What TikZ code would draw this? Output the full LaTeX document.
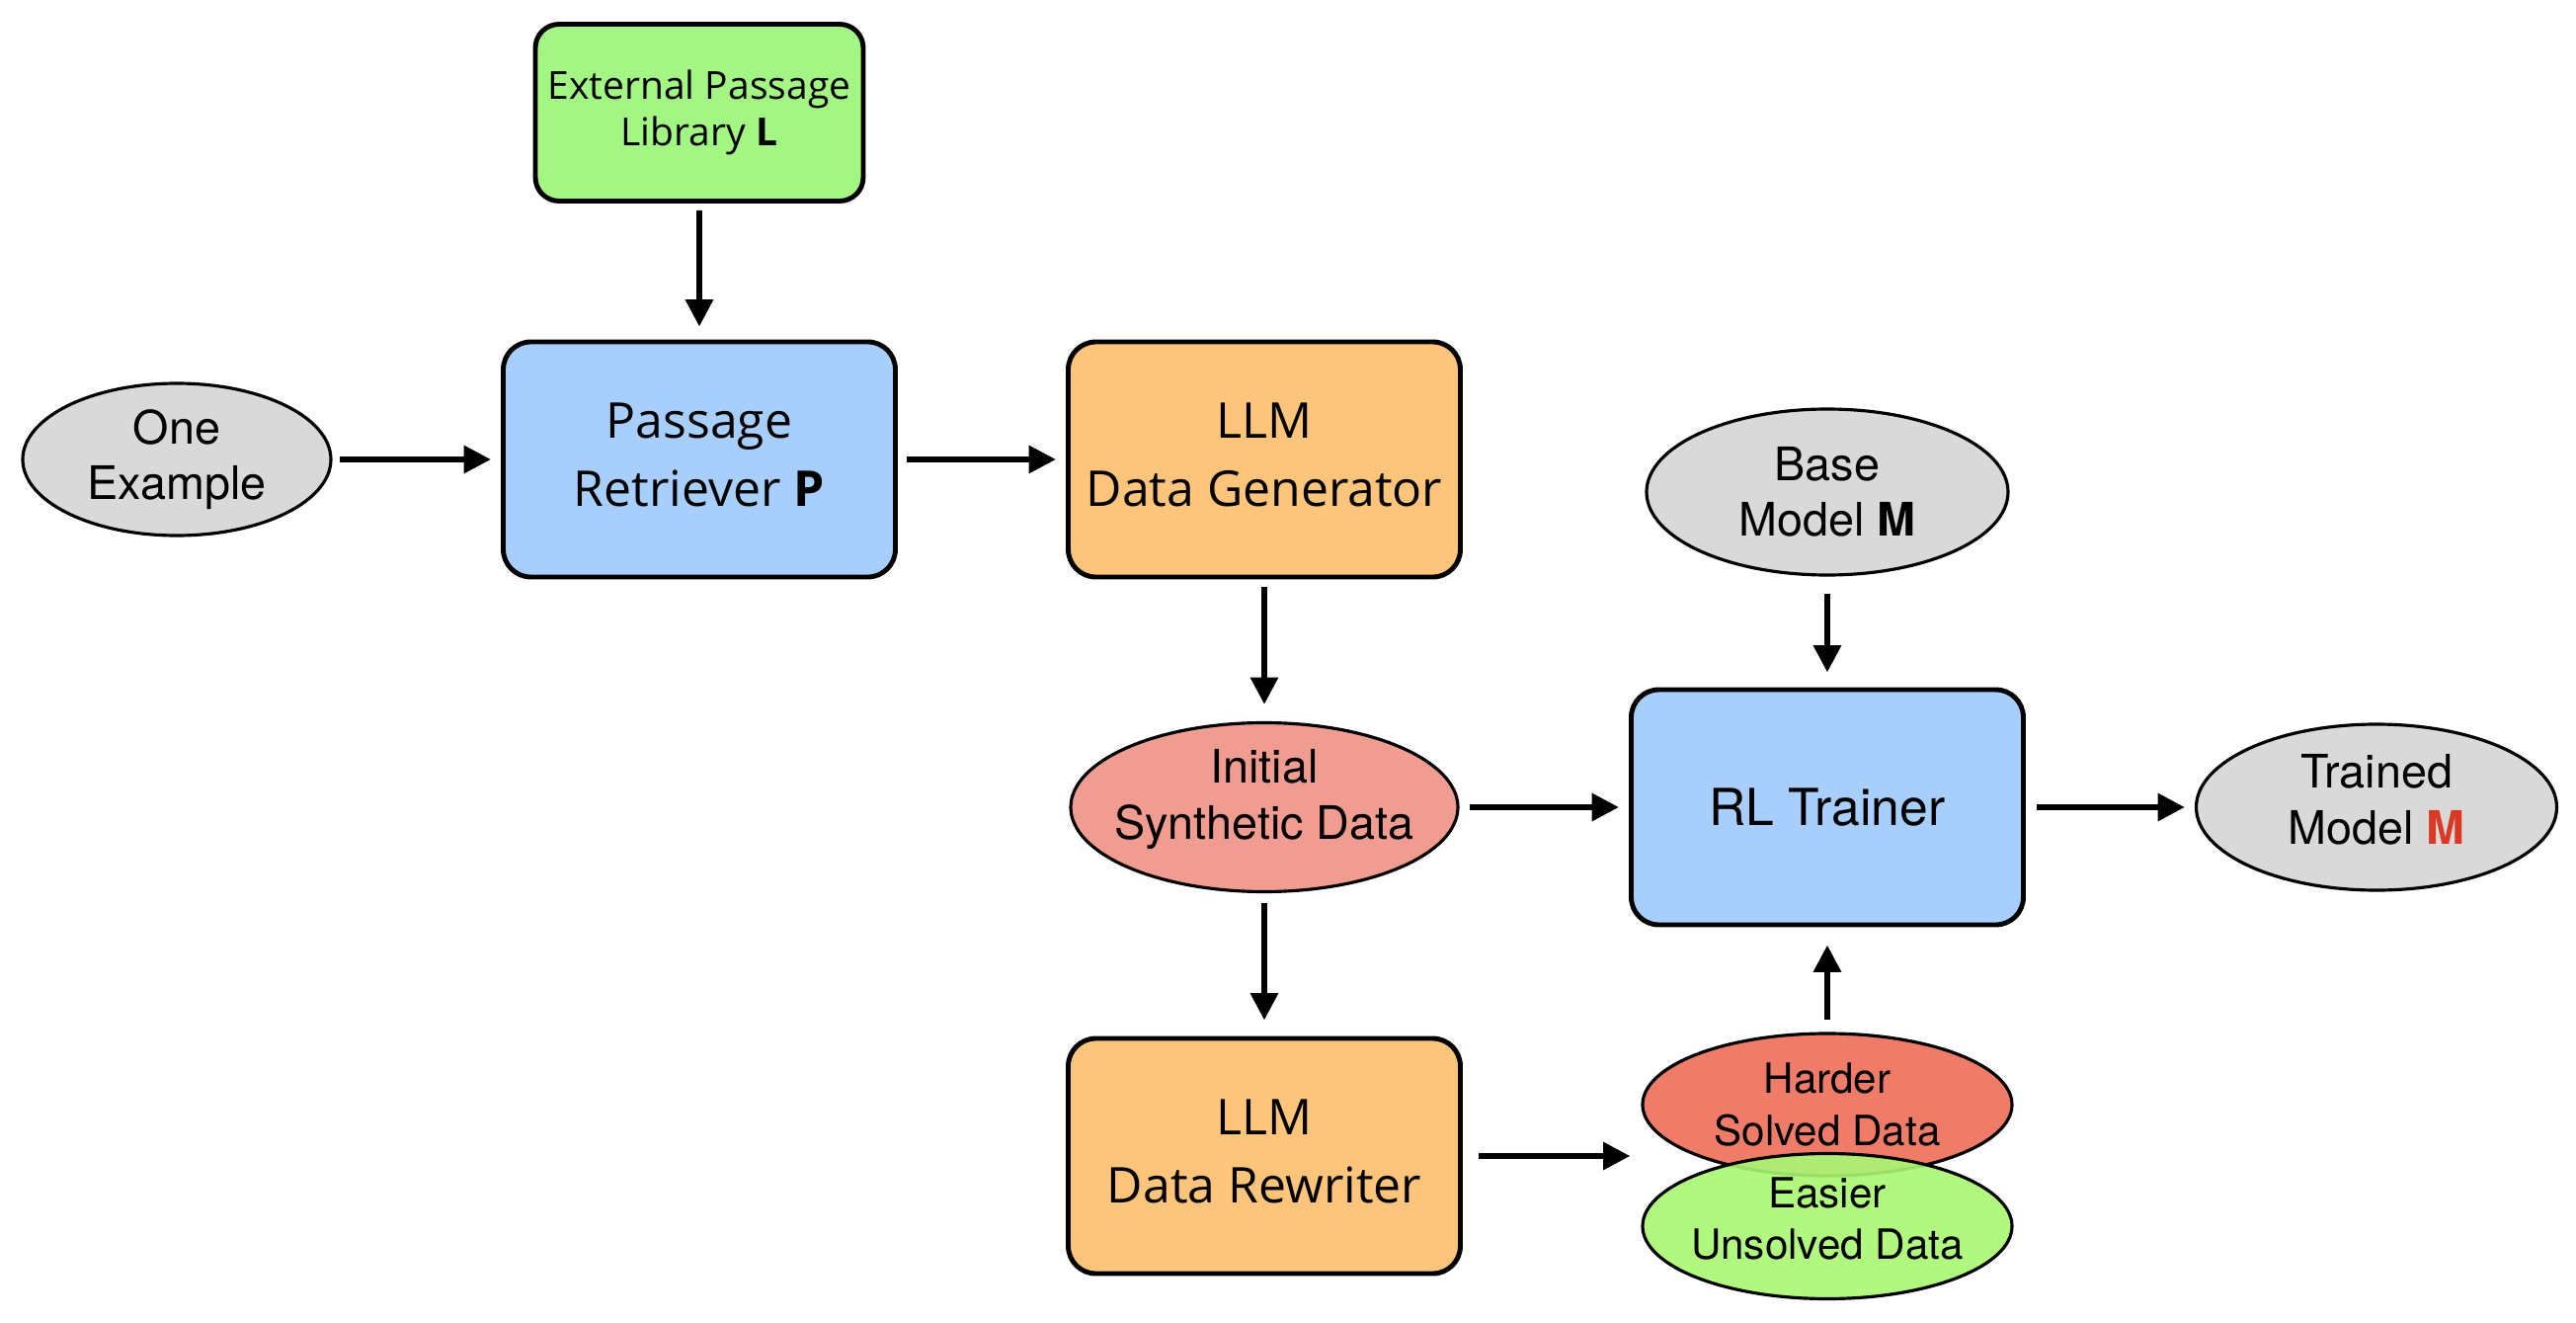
\documentclass[tikz,border=0pt]{standalone}
\usepackage{fontspec}
\setmainfont{TeX Gyre Heros}
\newfontfamily\notofont{Open Sans}
\usepackage{xcolor}
\usetikzlibrary{shapes}
\usetikzlibrary{shapes.geometric}
\usetikzlibrary{arrows.meta}
\definecolor{libGreen}{HTML}{A3F584}
\definecolor{procBlue}{HTML}{A8CFFB}
\definecolor{llmOrange}{HTML}{FDC57C}
\definecolor{ellGray}{HTML}{D9D9D9}
\definecolor{initRed}{HTML}{F19C91}
\definecolor{hardRed}{HTML}{EF7B69}
\definecolor{easyGreen}{HTML}{A9F773}
\definecolor{mRed}{HTML}{D93A26}
\tikzset{procBox/.style={draw, line width=1.4pt, rounded corners=0.28cm, minimum width=3.97cm, minimum height=2.38cm, align=center, text depth=0.1cm, font=\notofont\fontsize{14.2pt}{19.5pt}\selectfont}}
\tikzset{libBox/.style={draw, line width=1.4pt, rounded corners=0.24cm, minimum width=3.32cm, minimum height=1.79cm, align=center, fill=libGreen, font=\notofont\fontsize{11.1pt}{13.4pt}\selectfont}}
\tikzset{dataEll/.style={ellipse, draw, line width=0.9pt, inner xsep=-0.5cm, inner ysep=0pt, align=center, font=\fontsize{13.3pt}{16.1pt}\selectfont}}
\tikzset{poolEll/.style={dataEll, minimum width=3.74cm, minimum height=1.44cm, font=\fontsize{12pt}{14.8pt}\selectfont}}
\tikzset{flow/.style={-{Triangle[length=7.8pt,width=7.7pt]}, line width=1.75pt, shorten <=0.1cm, shorten >=0.1cm}}

\begin{document}
\begin{tikzpicture}

\useasboundingbox (0,0) rectangle (26.08,13.38);

\node[libBox] (lib) at (7.08, 12.24) {External Passage\\Library \textbf{L}};
\node[procBox, fill=procBlue] (ret) at (7.08, 8.73) {Passage\\Retriever \textbf{P}};
\node[dataEll, fill=ellGray, minimum width=3.12cm, minimum height=1.54cm] (ex) at (1.79, 8.73) {One\\Example};
\node[procBox, fill=llmOrange] (gen) at (12.80, 8.73) {LLM\\Data Generator};

\node[dataEll, fill=ellGray, minimum width=3.66cm, minimum height=1.68cm] (base) at (18.50, 8.40) {Base\\Model \textbf{M}};
\node[dataEll, fill=initRed, minimum width=3.92cm, minimum height=1.71cm, text depth=0.26cm] (init) at (12.80, 5.21) {Initial\\Synthetic Data};
\node[procBox, fill=procBlue, text depth=0cm, font=\fontsize{14.7pt}{17.6pt}\selectfont] (rl) at (18.50, 5.21) {RL Trainer};
\node[dataEll, fill=ellGray, minimum width=3.65cm, minimum height=1.68cm, text depth=0.16cm] (trained) at (24.06, 5.21) {Trained\\Model \textcolor{mRed}{\textbf{M}}};

\node[procBox, fill=llmOrange] (rew) at (12.80, 1.68) {LLM\\Data Rewriter};
\node[poolEll, fill=hardRed] (harder) at (18.50, 2.20) {Harder\\Solved Data};
\node[poolEll, fill=easyGreen, fill opacity=0.9, text opacity=1, minimum height=1.47cm, text depth=0.16cm] (easier) at (18.50, 0.97) {Easier\\Unsolved Data};
\coordinate (pool) at (rew -| easier.west);

% top row
\draw[flow, shorten <=0.07cm, shorten >=0.13cm] (lib) -- (ret);
\draw[flow, shorten <=0.07cm] (ex) -- (ret);
\draw[flow, shorten <=0.09cm] (ret) -- (gen);

% generation and rewriting
\draw[flow, shorten <=0.08cm, shorten >=0.17cm] (gen) -- (init);
\draw[flow, shorten >=0.16cm] (init) -- (rew);
\draw[flow, shorten <=0.16cm, shorten >=0.11cm] (rew) -- (pool);

% training
\draw[flow, shorten <=0.17cm, shorten >=0.15cm] (base) -- (rl);
\draw[flow] (init) -- (rl);
\draw[flow, shorten <=0.12cm, shorten >=0.18cm] (harder) -- (rl);
\draw[flow, shorten <=0.11cm] (rl) -- (trained);

\end{tikzpicture}
\end{document}
